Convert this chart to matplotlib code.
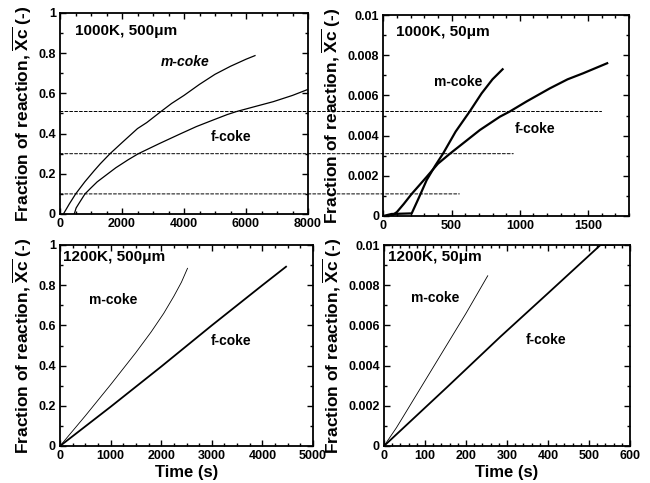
import matplotlib
matplotlib.use("Agg")
import matplotlib.pyplot as plt
from matplotlib.ticker import MultipleLocator, FuncFormatter
from matplotlib.patches import ConnectionPatch

plt.rcParams['font.family'] = ['Liberation Sans', 'DejaVu Sans']
plt.rcParams['font.weight'] = 'bold'
plt.rcParams['mathtext.fontset'] = 'custom'
plt.rcParams['mathtext.rm'] = 'Liberation Sans:bold'
plt.rcParams['mathtext.bf'] = 'Liberation Sans:bold'
plt.rcParams['mathtext.it'] = 'Liberation Sans:bold:italic'

# 1000K, 500um
tl_m_x = [110, 300, 505, 800, 1100, 1300, 1613, 2000, 2500, 2800, 3258, 3600, 4000,
          4500, 5000, 5500, 6000, 6290]
tl_m_y = [0, 0.05, 0.10, 0.16, 0.215, 0.25, 0.30, 0.355, 0.425, 0.455, 0.51, 0.55, 0.59,
          0.645, 0.695, 0.735, 0.77, 0.788]
tl_f_x = [460, 520, 600, 806, 1000, 1200, 1500, 1800, 2200, 2527, 3200, 3871, 4400,
          4946, 5400, 5699, 6300, 6882, 7500, 8000]
tl_f_y = [0, 0.03, 0.05, 0.10, 0.13, 0.16, 0.195, 0.23, 0.27, 0.30, 0.35, 0.398, 0.435,
          0.468, 0.495, 0.51, 0.535, 0.559, 0.59, 0.62]

# 1000K, 50um
tr_m_x = [0, 60, 208, 260, 318, 380, 439, 530, 635, 720, 800, 874]
tr_m_y = [0, 0.0001, 0.00013, 0.0009, 0.00179, 0.0025, 0.00312, 0.0042, 0.00522, 0.0061,
          0.0068, 0.0073]
tr_f_x = [60, 100, 150, 208, 260, 318, 400, 488, 600, 708, 854, 927, 1050, 1220, 1350,
          1464, 1640]
tr_f_y = [0, 0.0002, 0.0006, 0.0011, 0.0015, 0.00195, 0.0026, 0.0031, 0.0037, 0.00428,
          0.00494, 0.0052, 0.0057, 0.00635, 0.0068, 0.0071, 0.0076]

# 1200K, 500um
bl_m_x = [0, 500, 1000, 1500, 1800, 2050, 2250, 2400, 2520]
bl_m_y = [0, 0.15, 0.305, 0.465, 0.567, 0.66, 0.745, 0.815, 0.884]
bl_f_x = [0, 1000, 2000, 3000, 4000, 4467]
bl_f_y = [0, 0.195, 0.395, 0.60, 0.80, 0.892]

# 1200K, 50um
br_m_x = [0, 30, 45, 121, 200, 253]
br_m_y = [0, 0.0009, 0.0014, 0.00395, 0.0066, 0.00847]
br_f_x = [0, 155, 284, 400, 528, 560]
br_f_y = [0, 0.00295, 0.00544, 0.0076, 0.01, 0.01]

# dashed guide lines running from the left panel into the right one
dash_left_y = [0.51, 0.30, 0.10]
dash_right_y = [0.0052, 0.0031, 0.0011]
dash_right_end = [1599, 952, 557]

ylab = r'Fraction of reaction, $\overline{\mathbf{Xc}}$ (-)'
fmt = FuncFormatter(lambda v, p: '%g' % v)

fig = plt.figure(figsize=(6.5, 4.83), dpi=100)
W, H = 650.0, 483.0
def box(x0, x1, y0, y1):
    return [x0 / W, 1 - y1 / H, (x1 - x0) / W, (y1 - y0) / H]

ax1 = fig.add_axes(box(60, 308, 13, 214))
ax2 = fig.add_axes(box(383.3, 629, 15, 216))
ax3 = fig.add_axes(box(60, 313, 245, 446))
ax4 = fig.add_axes(box(384, 630, 245, 446))

def style(ax, xmax, xmaj, xmin, ymax, ymaj, ymin):
    ax.set_xlim(0, xmax)
    ax.set_ylim(0, ymax)
    ax.xaxis.set_major_locator(MultipleLocator(xmaj))
    ax.xaxis.set_minor_locator(MultipleLocator(xmin))
    ax.yaxis.set_major_locator(MultipleLocator(ymaj))
    ax.yaxis.set_minor_locator(MultipleLocator(ymin))
    ax.xaxis.set_major_formatter(fmt)
    ax.yaxis.set_major_formatter(fmt)
    ax.tick_params(which='both', direction='in', top=True, right=True, labelsize=9, width=1, pad=3)
    ax.tick_params(which='major', length=4)
    ax.tick_params(which='minor', length=2.5)
    for s in ax.spines.values():
        s.set_linewidth(1.3)
    ax.set_ylabel(ylab, fontsize=12.5, fontweight='bold', labelpad=3)

style(ax1, 8000, 2000, 500, 1, 0.2, 0.1)
style(ax2, 1800, 500, 100, 0.01, 0.002, 0.001)
style(ax3, 5000, 1000, 250, 1, 0.2, 0.1)
style(ax4, 600, 100, 20, 0.01, 0.002, 0.001)

ax1.plot(tl_m_x, tl_m_y, color='black', lw=0.9)
ax1.plot(tl_f_x, tl_f_y, color='black', lw=0.9)
ax2.plot(tr_m_x, tr_m_y, color='black', lw=1.6)
ax2.plot(tr_f_x, tr_f_y, color='black', lw=1.6)
ax3.plot(bl_m_x, bl_m_y, color='black', lw=0.6)
ax3.plot(bl_f_x, bl_f_y, color='black', lw=1.3)
ax4.plot(br_m_x, br_m_y, color='black', lw=0.6)
ax4.plot(br_f_x, br_f_y, color='black', lw=1.3)

for yl, yr, xe in zip(dash_left_y, dash_right_y, dash_right_end):
    con = ConnectionPatch(xyA=(0, yl), coordsA='data', axesA=ax1,
                          xyB=(xe, yr), coordsB='data', axesB=ax2,
                          color='black', lw=0.7, linestyle=(0, (3, 2)))
    fig.add_artist(con)

tkw = dict(fontsize=10, fontweight='bold', ha='center', va='center')
hkw = dict(fontsize=11, fontweight='bold', va='center')
ax1.text(0.06, 0.912, '1000K, 500μm', transform=ax1.transAxes, **hkw)
ax1.text(4030, 0.758, 'm-coke', style='italic', **tkw)
ax1.text(5530, 0.385, 'f-coke', **tkw)

ax2.text(0.052, 0.917, '1000K, 50μm', transform=ax2.transAxes, **hkw)
ax2.text(549, 0.00668, 'm-coke', **tkw)
ax2.text(1110, 0.00431, 'f-coke', **tkw)

ax3.text(0.012, 0.94, '1200K, 500μm', transform=ax3.transAxes, **hkw)
ax3.text(1060, 0.726, 'm-coke', **tkw)
ax3.text(3380, 0.52, 'f-coke', **tkw)

ax4.text(0.016, 0.94, '1200K, 50μm', transform=ax4.transAxes, **hkw)
ax4.text(125, 0.00735, 'm-coke', **tkw)
ax4.text(396, 0.00527, 'f-coke', **tkw)

ax3.set_xlabel('Time (s)', fontsize=12, fontweight='bold', labelpad=2)
ax4.set_xlabel('Time (s)', fontsize=12, fontweight='bold', labelpad=2)

fig.savefig('out.png', dpi=100)
